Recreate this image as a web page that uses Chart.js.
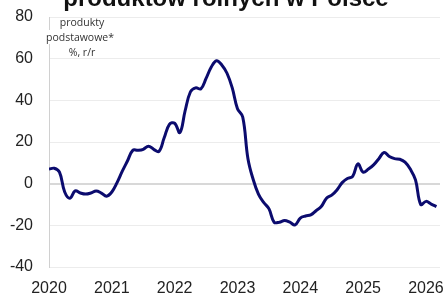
<!DOCTYPE html>
<html><head><meta charset="utf-8">
<script src="https://cdn.jsdelivr.net/npm/chart.js@4.4.1/dist/chart.umd.min.js"></script>
<style>
html,body{margin:0;padding:0;background:#fff;overflow:hidden}
#wrap{position:relative;width:446px;height:294px}
#title{position:absolute;left:0;width:446px;top:-16px;text-align:center;font:bold 24px "Liberation Sans",Arial,sans-serif;color:#111;white-space:nowrap;padding-left:6px;box-sizing:border-box}
.ann{position:absolute;font:10.5px "Open Sans","Liberation Sans",sans-serif;color:#333;text-align:center;width:90px;left:37px;white-space:nowrap}
</style></head><body>
<div id="wrap">
<canvas id="c" width="446" height="294"></canvas>
<div id="title">produktów rolnych w Polsce</div>
<div class="ann" style="top:15px">produkty</div>
<div class="ann" style="top:30px;left:35px;background:#fff">podstawowe*</div>
<div class="ann" style="top:45px">%, r/r</div>
</div>
<script>
const startYear = 2020;
const yearTicks = ['2020','2021','2022','2023','2024','2025','2026'];
const yTicks = [-40,-20,0,20,40,60,80];
// monthly values, Jan 2020 – Mar 2026, % y/y
const values = [
  7, 7.4, 5.5, -4, -7, -3.5, -4.5, -5, -4.5, -3.5, -4.5, -6,
  -4, 0.5, 6, 11, 16, 16, 16.5, 18, 16.5, 15.5, 22, 28.5,
  29, 24.5, 35, 44, 46, 45.5, 50.5, 56, 59, 57, 53, 46,
  36, 32, 12, 2, -5, -9, -12, -18.5, -18.5, -17.7, -18.5, -19.8,
  -16.5, -15.5, -15, -13, -11, -7, -5.5, -3, 0.5, 2.5, 3.5, 9.5,
  5.5, 7, 9, 12, 15, 13, 12, 11.7, 10.3, 7, 1.8, -10,
  -8.5, -9.8, -11
];
const points = values.map((v,i)=>({x:i,y:v}));
new Chart(document.getElementById('c'),{
  type:'line',
  data:{datasets:[{data:points,borderColor:'#0b0b6e',borderWidth:3,pointRadius:0,tension:0.4,fill:false}]},
  options:{
    responsive:false,animation:false,
    layout:{padding:{top:17,right:6,left:0,bottom:0}},
    plugins:{legend:{display:false},tooltip:{enabled:false}},
    scales:{
      x:{type:'linear',min:0,max:74.68,
        afterFit:s=>{s.height=27;s.paddingLeft=0;s.paddingRight=0;},
        afterBuildTicks:s=>{s.ticks=yearTicks.map((t,i)=>({value:i*12}));},
        grid:{display:false,drawTicks:false},
        border:{display:false},
        ticks:{padding:12,autoSkip:false,maxRotation:0,color:'#222',font:{family:'"Liberation Sans",Arial,sans-serif',size:16},
          callback:(v)=>yearTicks[Math.round(v/12)]}},
      y:{min:-40,max:80,
        afterFit:s=>{s.width=49;s.paddingTop=0;s.paddingBottom=0;},
        afterBuildTicks:s=>{s.ticks=yTicks.map(v=>({value:v}));},
        grid:{drawTicks:false,color:c=>c.tick&&c.tick.value===0?'#d8d8d8':'#ececec',lineWidth:c=>c.tick&&c.tick.value===0?2:1},
        border:{display:true,color:'#d0d0d0'},
        ticks:{padding:16,color:'#222',font:{family:'"Liberation Sans",Arial,sans-serif',size:16}}}
    }
  }
});
</script>
</body></html>
